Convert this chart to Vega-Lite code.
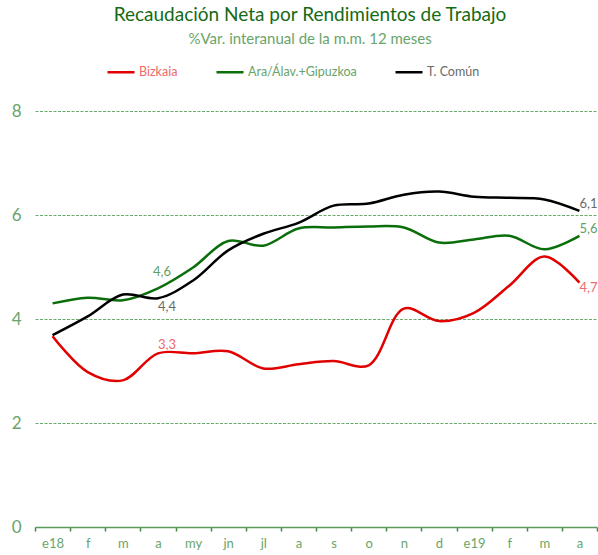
{
  "$schema": "https://vega.github.io/schema/vega-lite/v6.json",
  "width": 562,
  "height": 416,
  "autosize": {"type": "none"},
  "padding": {"left": 35, "top": 111, "right": 1, "bottom": 28},
  "background": "white",
  "title": {
    "text": "Recaudación Neta por Rendimientos de Trabajo",
    "subtitle": "%Var. interanual de la m.m. 12 meses",
    "anchor": "middle",
    "font": "Lato",
    "fontSize": 19,
    "fontWeight": "normal",
    "color": "#156a15",
    "subtitleFont": "Lato",
    "subtitleFontSize": 15,
    "subtitleColor": "#6aa46a",
    "subtitlePadding": 7,
    "offset": 10,
    "dx": -6
  },
  "data": {
    "values": [
      {"mes": "e18", "serie": "Bizkaia", "valor": 3.67},
      {"mes": "f18", "serie": "Bizkaia", "valor": 2.98},
      {"mes": "m18", "serie": "Bizkaia", "valor": 2.82},
      {"mes": "a18", "serie": "Bizkaia", "valor": 3.34},
      {"mes": "my18", "serie": "Bizkaia", "valor": 3.34},
      {"mes": "jn18", "serie": "Bizkaia", "valor": 3.38},
      {"mes": "jl18", "serie": "Bizkaia", "valor": 3.05},
      {"mes": "ag18", "serie": "Bizkaia", "valor": 3.13},
      {"mes": "s18", "serie": "Bizkaia", "valor": 3.19},
      {"mes": "o18", "serie": "Bizkaia", "valor": 3.11},
      {"mes": "n18", "serie": "Bizkaia", "valor": 4.2},
      {"mes": "d18", "serie": "Bizkaia", "valor": 3.96},
      {"mes": "e19", "serie": "Bizkaia", "valor": 4.12},
      {"mes": "f19", "serie": "Bizkaia", "valor": 4.64},
      {"mes": "m19", "serie": "Bizkaia", "valor": 5.2},
      {"mes": "a19", "serie": "Bizkaia", "valor": 4.7},
      {"mes": "e18", "serie": "Ara/Álav.+Gipuzkoa", "valor": 4.3},
      {"mes": "f18", "serie": "Ara/Álav.+Gipuzkoa", "valor": 4.41},
      {"mes": "m18", "serie": "Ara/Álav.+Gipuzkoa", "valor": 4.36},
      {"mes": "a18", "serie": "Ara/Álav.+Gipuzkoa", "valor": 4.59},
      {"mes": "my18", "serie": "Ara/Álav.+Gipuzkoa", "valor": 4.99},
      {"mes": "jn18", "serie": "Ara/Álav.+Gipuzkoa", "valor": 5.5},
      {"mes": "jl18", "serie": "Ara/Álav.+Gipuzkoa", "valor": 5.41},
      {"mes": "ag18", "serie": "Ara/Álav.+Gipuzkoa", "valor": 5.74},
      {"mes": "s18", "serie": "Ara/Álav.+Gipuzkoa", "valor": 5.76},
      {"mes": "o18", "serie": "Ara/Álav.+Gipuzkoa", "valor": 5.78},
      {"mes": "n18", "serie": "Ara/Álav.+Gipuzkoa", "valor": 5.76},
      {"mes": "d18", "serie": "Ara/Álav.+Gipuzkoa", "valor": 5.47},
      {"mes": "e19", "serie": "Ara/Álav.+Gipuzkoa", "valor": 5.53},
      {"mes": "f19", "serie": "Ara/Álav.+Gipuzkoa", "valor": 5.6},
      {"mes": "m19", "serie": "Ara/Álav.+Gipuzkoa", "valor": 5.34},
      {"mes": "a19", "serie": "Ara/Álav.+Gipuzkoa", "valor": 5.6},
      {"mes": "e18", "serie": "T. Común", "valor": 3.69},
      {"mes": "f18", "serie": "T. Común", "valor": 4.05},
      {"mes": "m18", "serie": "T. Común", "valor": 4.47},
      {"mes": "a18", "serie": "T. Común", "valor": 4.4},
      {"mes": "my18", "serie": "T. Común", "valor": 4.74},
      {"mes": "jn18", "serie": "T. Común", "valor": 5.32},
      {"mes": "jl18", "serie": "T. Común", "valor": 5.64},
      {"mes": "ag18", "serie": "T. Común", "valor": 5.85},
      {"mes": "s18", "serie": "T. Común", "valor": 6.18},
      {"mes": "o18", "serie": "T. Común", "valor": 6.22},
      {"mes": "n18", "serie": "T. Común", "valor": 6.39},
      {"mes": "d18", "serie": "T. Común", "valor": 6.45},
      {"mes": "e19", "serie": "T. Común", "valor": 6.35},
      {"mes": "f19", "serie": "T. Común", "valor": 6.33},
      {"mes": "m19", "serie": "T. Común", "valor": 6.3},
      {"mes": "a19", "serie": "T. Común", "valor": 6.08}
    ]
  },
  "transform": [
    {"calculate": "replace(format(datum.valor, '.1f'), '.', ',')", "as": "etiqueta"}
  ],
  "encoding": {
    "x": {
      "field": "mes",
      "type": "ordinal",
      "sort": null,
      "bandPosition": 0.5,
      "scale": {"type": "band", "paddingInner": 0, "paddingOuter": 0},
      "axis": {
        "title": null,
        "labelAngle": 0,
        "labelExpr": "!isString(datum.value) ? '' : (datum.value == 'e18' || datum.value == 'e19') ? datum.value : datum.value == 'ag18' ? 'a' : substring(datum.value, 0, length(datum.value) - 2)",
        "domainColor": "#5b9b5b",
        "domainWidth": 1.5,
        "tickColor": "#3f8a3f",
        "tickWidth": 1.5,
        "tickSize": 4,
        "tickBand": "extent",
        "labelColor": "#6aa46a",
        "labelFont": "Lato",
        "labelFontSize": 13,
        "labelPadding": 6,
        "grid": false
      }
    },
    "y": {
      "field": "valor",
      "type": "quantitative",
      "scale": {"domain": [0, 8]},
      "axis": {
        "title": null,
        "domain": false,
        "ticks": false,
        "values": [0, 2, 4, 6, 8],
        "grid": true,
        "gridDash": [3, 1.5],
        "gridColor": "#6aaa6a",
        "gridWidth": 1,
        "labelColor": "#6aa46a",
        "labelFont": "Lato",
        "labelFontSize": 17,
        "labelPadding": 14
      }
    }
  },
  "layer": [
    {
      "mark": {"type": "line", "interpolate": "catmull-rom", "strokeWidth": 2.5},
      "encoding": {
        "color": {
          "field": "serie",
          "type": "nominal",
          "scale": {
            "domain": ["Bizkaia", "Ara/Álav.+Gipuzkoa", "T. Común"],
            "range": ["#e10000", "#0a6e0a", "#000000"]
          },
          "legend": {
            "orient": "none",
            "legendX": 71,
            "legendY": -54,
            "direction": "horizontal",
            "title": null,
            "symbolType": "stroke",
            "symbolSize": 729,
            "symbolStrokeWidth": 2.5,
            "labelFont": "Lato",
            "labelFontSize": 12.5,
            "labelOffset": 3,
            "columnPadding": 33,
            "encode": {
              "labels": {
                "update": {
                  "fill": {"signal": "datum.value == 'Bizkaia' ? '#ee6a6a' : datum.value == 'T. Común' ? '#6a6a6a' : '#6aa46a'"}
                }
              }
            }
          }
        }
      }
    },
    {
      "transform": [{"filter": "datum.mes == 'a18' && datum.serie == 'Ara/Álav.+Gipuzkoa'"}],
      "mark": {"type": "text", "font": "Lato", "fontSize": 13, "color": "#5f9f5f", "dx": 4, "dy": -16},
      "encoding": {"text": {"field": "etiqueta"}}
    },
    {
      "transform": [{"filter": "datum.mes == 'a18' && datum.serie == 'T. Común'"}],
      "mark": {"type": "text", "font": "Lato", "fontSize": 13, "color": "#6a6a6a", "dx": 9, "dy": 9},
      "encoding": {"text": {"field": "etiqueta"}}
    },
    {
      "transform": [{"filter": "datum.mes == 'a18' && datum.serie == 'Bizkaia'"}],
      "mark": {"type": "text", "font": "Lato", "fontSize": 13, "color": "#ee6a6a", "dx": 9, "dy": -8},
      "encoding": {"text": {"field": "etiqueta"}}
    },
    {
      "transform": [{"filter": "datum.mes == 'a19' && datum.serie == 'T. Común'"}],
      "mark": {"type": "text", "font": "Lato", "fontSize": 13, "color": "#6a6a6a", "align": "left", "dx": 0, "dy": -7},
      "encoding": {"text": {"field": "etiqueta"}}
    },
    {
      "transform": [{"filter": "datum.mes == 'a19' && datum.serie == 'Ara/Álav.+Gipuzkoa'"}],
      "mark": {"type": "text", "font": "Lato", "fontSize": 13, "color": "#5f9f5f", "align": "left", "dx": 0, "dy": -7},
      "encoding": {"text": {"field": "etiqueta"}}
    },
    {
      "transform": [{"filter": "datum.mes == 'a19' && datum.serie == 'Bizkaia'"}],
      "mark": {"type": "text", "font": "Lato", "fontSize": 13, "color": "#ee6a6a", "align": "left", "dx": 0, "dy": 5},
      "encoding": {"text": {"field": "etiqueta"}}
    }
  ],
  "config": {"view": {"stroke": null}}
}
